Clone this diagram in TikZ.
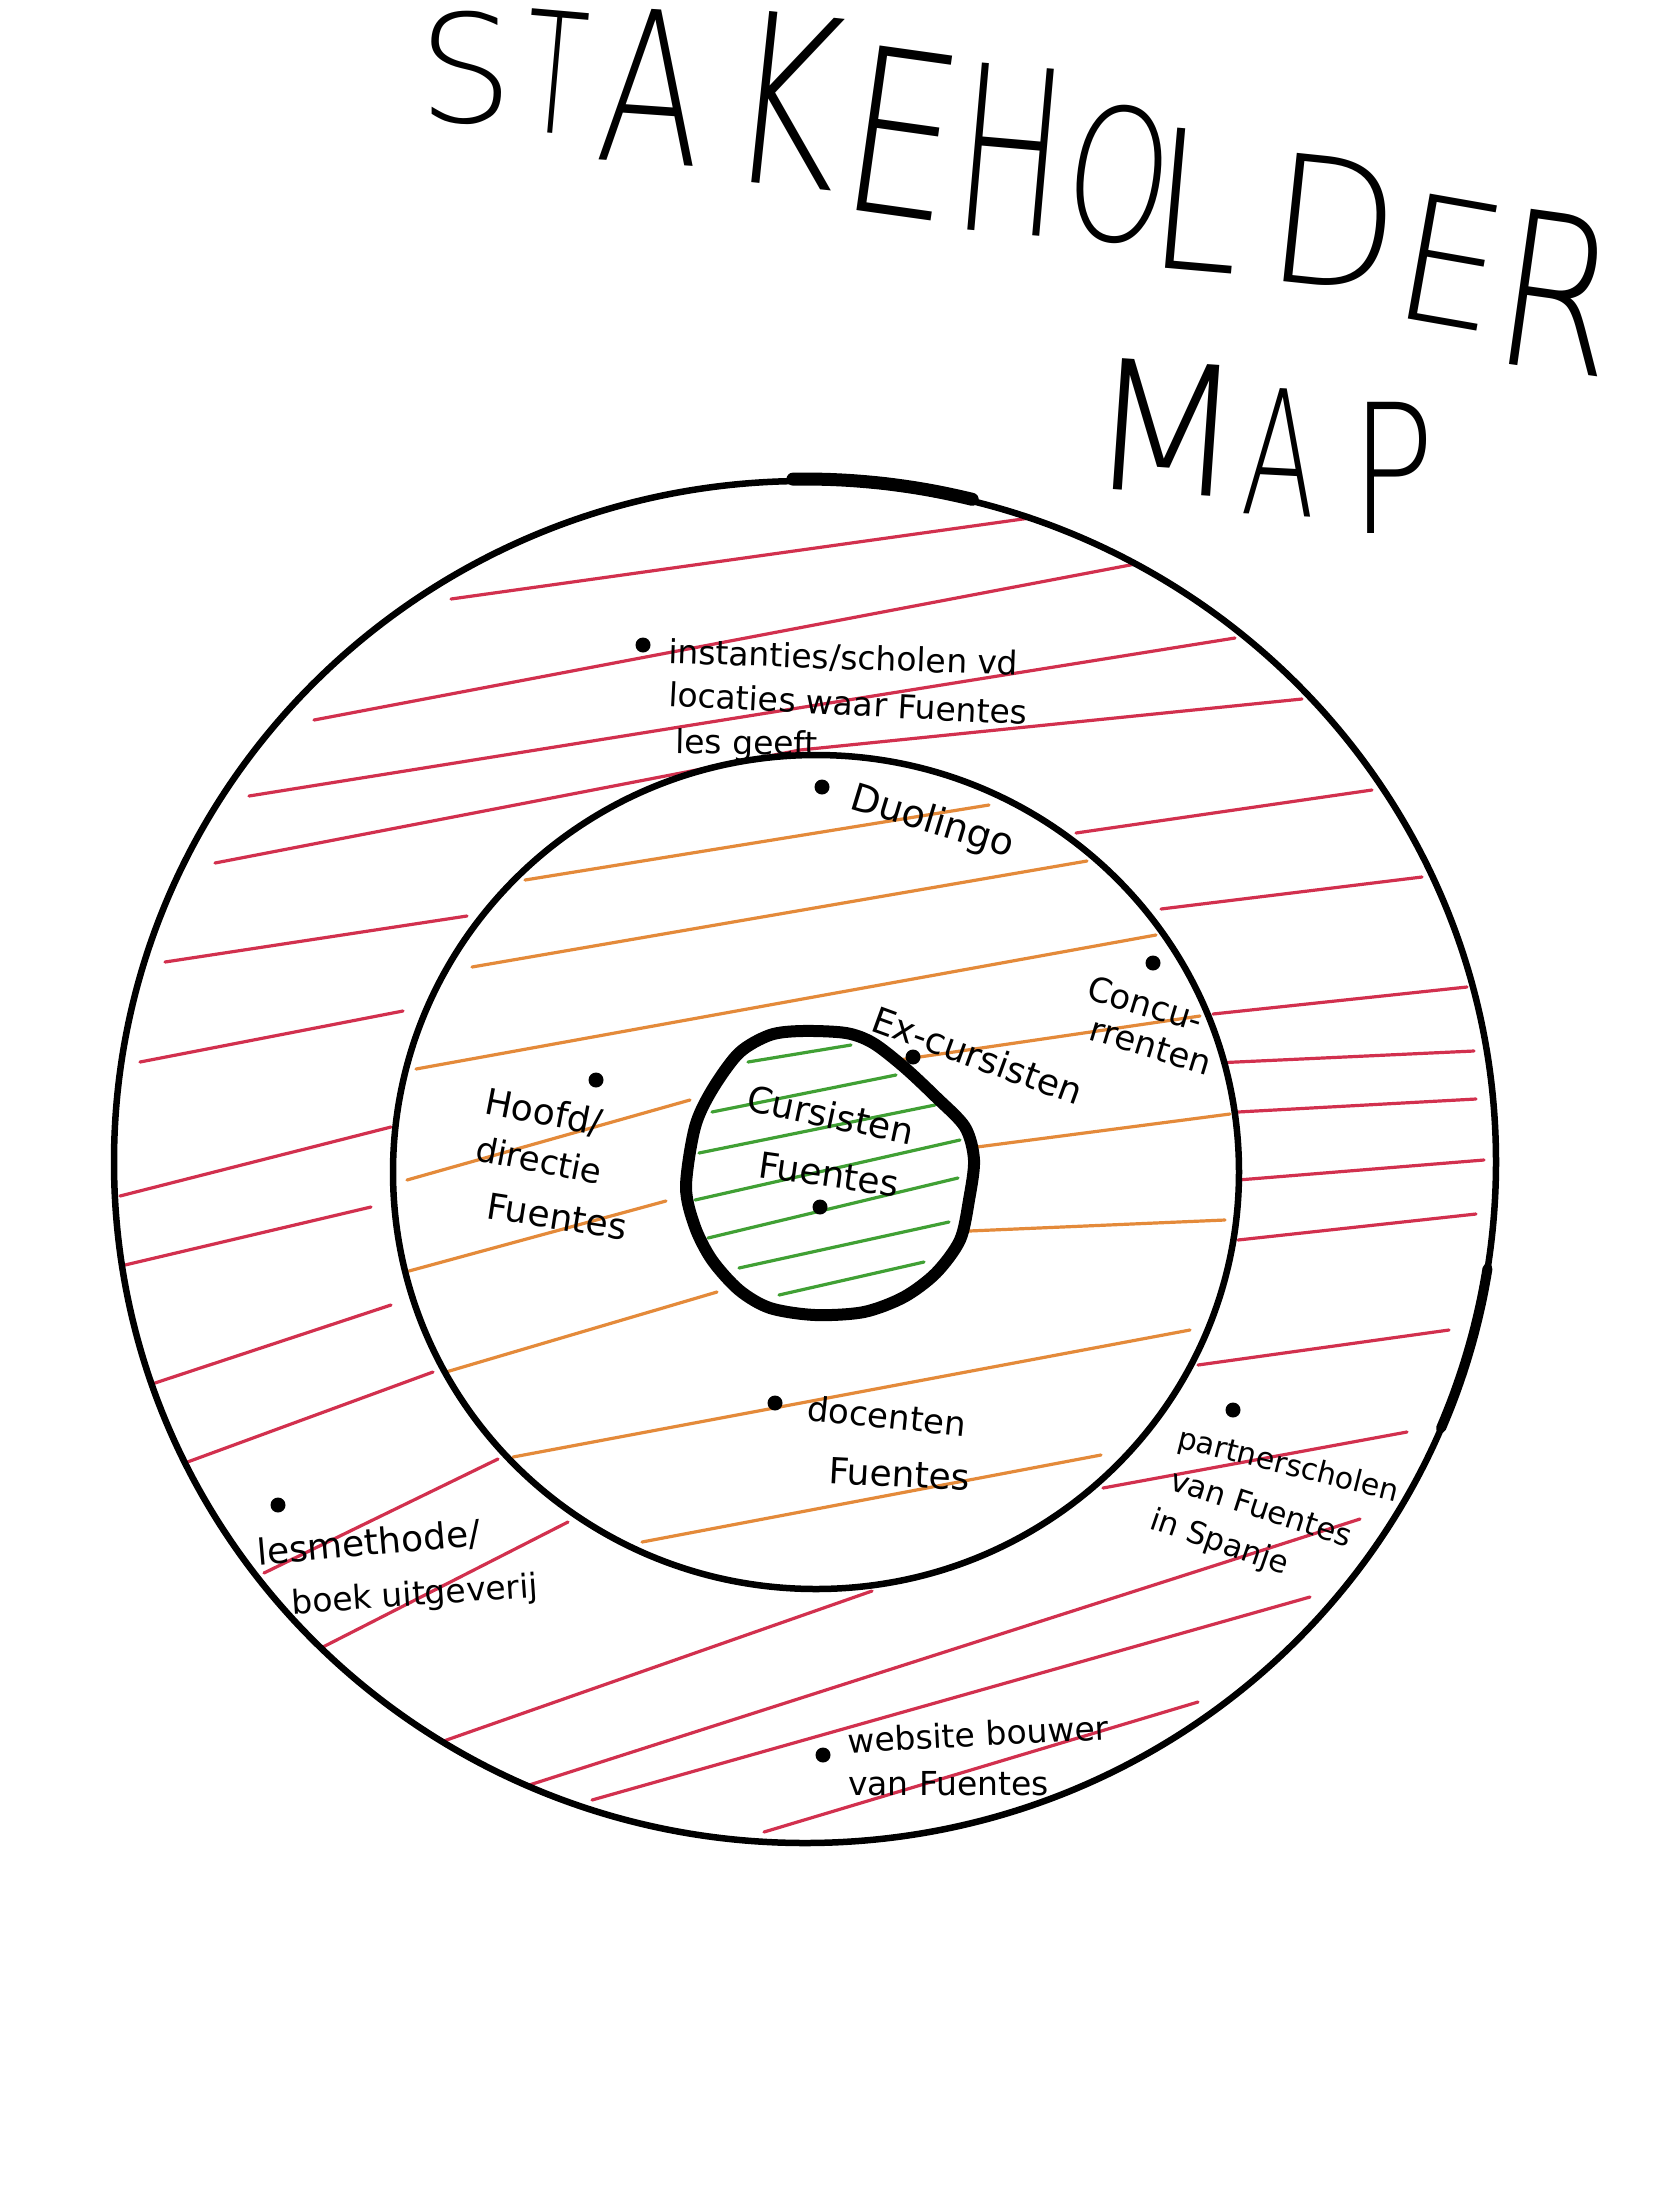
\documentclass[tikz,border=0pt]{standalone}
\usepackage{fontspec}
\setmainfont{DejaVu Sans}
\newfontfamily\handfont{DejaVu Sans}
\newfontfamily\titlefont{DejaVuSans-ExtraLight.ttf}

\definecolor{ringred}{RGB}{210,48,78}
\definecolor{ringorange}{RGB}{228,138,58}
\definecolor{ringgreen}{RGB}{64,160,52}

\tikzset{
  hatchred/.style={draw=ringred, line width=3.2pt, line cap=round},
  hatchorange/.style={draw=ringorange, line width=3.2pt, line cap=round},
  hatchgreen/.style={draw=ringgreen, line width=3.2pt, line cap=round},
  ringline/.style={draw=black, line width=#1, line cap=round, line join=round},
  dotmark/.style={circle, fill=black, inner sep=0pt, minimum size=15pt},
  lbl/.style={font=\handfont\fontsize{#1}{#1}\selectfont, anchor=base west, inner sep=0pt, text=black},
  titleletter/.style={font=\titlefont\fontsize{#1}{#1}\selectfont, inner sep=0pt, transform shape, text=black},
}

% one hand-lettered capital of the heading: name, x, y, size, rotation, x-scale, letter
\newcommand\titlechar[7]{%
  \begin{scope}[shift={(#2,#3)}]
    \node[titleletter=#4, rotate=#5, xscale=#6] (#1) at (0,0) {#7};
  \end{scope}}

\begin{document}
\begin{tikzpicture}[x=1pt, y=-1pt]
\useasboundingbox (0,0) rectangle (1653,2212);
\fill[white] (0,0) rectangle (1653,2212);

% ---------- red hatching of the outer ring ----------
\begin{scope}[even odd rule]
  \clip (805,1162) ellipse [x radius=691, y radius=681]
        (816,1172) ellipse [x radius=423, y radius=417];
  \foreach \a/\b/\c/\d in {451/599/1030/518, 314/720/1146/562, 249/796/1235/638,
      215/863/800/750, 800/750/1302/699,
      165/962/467/916, 140/1062/403/1011, 120/1196/391/1127, 125/1265/371/1207,
      155/1383/391/1305, 182/1464/433/1372, 264/1573/498/1459, 319/1649/568/1522,
      438/1743/872/1591, 523/1787/1360/1519, 592/1800/1310/1597, 764/1832/1198/1702,
      1076/833/1372/790, 1161/909/1422/877, 1213/1014/1467/987, 1215/1063/1474/1051,
      1238/1112/1476/1099, 1238/1180/1484/1160, 1238/1240/1476/1214,
      1198/1365/1449/1330, 1103/1488/1407/1432}
    \draw[hatchred] (\a,\b) -- (\c,\d);
\end{scope}

% ---------- orange hatching of the middle ring ----------
\begin{scope}[even odd rule]
  \clip (816,1172) ellipse [x radius=423, y radius=417]
    plot[smooth cycle, tension=0.5] coordinates {(686,1187) (695,1127) (712,1090) (739,1053)
      (770,1035) (802,1031) (846,1033) (873,1043) (904,1067) (936,1097) (965,1127)
      (974,1160) (969,1200) (960,1240) (936,1273) (904,1297) (864,1312) (815,1315)
      (770,1308) (739,1290) (712,1260) (695,1227)};
  \foreach \a/\b/\c/\d in {525/880/989/805, 472/967/1087/861, 416/1069/1156/935,
      407/1180/690/1100, 409/1271/666/1201, 446/1372/717/1292,
      513/1457/1190/1330, 642/1542/1101/1455,
      899/1060/1200/1016, 977/1147/1230/1114, 969/1231/1225/1220}
    \draw[hatchorange] (\a,\b) -- (\c,\d);
\end{scope}

% ---------- green hatching of the centre ----------
\begin{scope}
  \clip plot[smooth cycle, tension=0.5] coordinates {(686,1187) (695,1127) (712,1090) (739,1053)
      (770,1035) (802,1031) (846,1033) (873,1043) (904,1067) (936,1097) (965,1127)
      (974,1160) (969,1200) (960,1240) (936,1273) (904,1297) (864,1312) (815,1315)
      (770,1308) (739,1290) (712,1260) (695,1227)};
  \foreach \a/\b/\c/\d in {748/1062/851/1045, 712/1112/896/1075, 699/1153/935/1105,
      695/1200/960/1140, 708/1238/958/1178, 739/1268/949/1222, 779/1295/924/1262}
    \draw[hatchgreen] (\a,\b) -- (\c,\d);
\end{scope}

% ---------- the three rings ----------
\draw[ringline=6.5pt] (805,1162) ellipse [x radius=691, y radius=681];
\draw[ringline=6.5pt] (816,1172) ellipse [x radius=423, y radius=417];
\draw[ringline=12pt] plot[smooth cycle, tension=0.5] coordinates {(686,1187) (695,1127) (712,1090)
      (739,1053) (770,1035) (802,1031) (846,1033) (873,1043) (904,1067) (936,1097)
      (965,1127) (974,1160) (969,1200) (960,1240) (936,1273) (904,1297) (864,1312)
      (815,1315) (770,1308) (739,1290) (712,1260) (695,1227)};
% heavier pen strokes on the outer ring
\draw[line width=13pt, line cap=round] plot[domain=76:91, samples=20, smooth]
  ({805+691*cos(\x)},{1162-683*sin(\x)});
\draw[line width=10pt, line cap=round] plot[domain=-23:-9, samples=20, smooth]
  ({805+691*cos(\x)},{1162-681*sin(\x)});

% ---------- stakeholders ----------
\node[dotmark] (d1) at (643,645) {};
\node[lbl=33, rotate=-2] (t1a) at (668,663) {instanties/scholen vd};
\node[lbl=33, rotate=-3] (t1b) at (668,706) {locaties waar Fuentes};
\node[lbl=33, rotate=-1] (t1c) at (675,753) {les geeft};

\node[dotmark] (d2) at (822,787) {};
\node[lbl=38, rotate=-17] (t2) at (848,808) {Duolingo};

\node[dotmark] (d3) at (1153,963) {};
\node[lbl=34, rotate=-17] (t3a) at (1085,998) {Concu-};
\node[lbl=34, rotate=-17] (t3b) at (1087,1039) {rrenten};

\node[dotmark] (d4) at (913,1057) {};
\node[lbl=36, rotate=-20] (t4) at (869,1030) {Ex-cursisten};

\node[dotmark] (d5) at (820,1207) {};
\node[lbl=36, rotate=-12] (t5a) at (745,1110) {Cursisten};
\node[lbl=36, rotate=-8] (t5b) at (757,1177) {Fuentes};

\node[dotmark] (d6) at (596,1080) {};
\node[lbl=36, rotate=-11] (t6a) at (483,1113) {Hoofd/};
\node[lbl=34, rotate=-11] (t6b) at (474,1160) {directie};
\node[lbl=36, rotate=-9] (t6c) at (485,1218) {Fuentes};

\node[dotmark] (d7) at (775,1403) {};
\node[lbl=34, rotate=-6] (t7a) at (806,1420) {docenten};
\node[lbl=36, rotate=-3] (t7b) at (828,1483) {Fuentes};

\node[dotmark] (d8) at (278,1505) {};
\node[lbl=36, rotate=5] (t8a) at (258,1565) {lesmethode/};
\node[lbl=33, rotate=4] (t8b) at (292,1614) {boek uitgeverij};

\node[dotmark] (d9) at (1233,1410) {};
\node[lbl=30, rotate=-14] (t9a) at (1176,1447) {partnerscholen};
\node[lbl=31, rotate=-18] (t9b) at (1168,1489) {van Fuentes};
\node[lbl=31, rotate=-19] (t9c) at (1148,1528) {in Spanje};

\node[dotmark] (d10) at (823,1755) {};
\node[lbl=33, rotate=3] (t10a) at (848,1753) {website bouwer};
\node[lbl=33, rotate=0] (t10b) at (848,1795) {van Fuentes};

% ---------- heading ----------
\titlechar{h1}{466}{68}{150}{0}{1.0}{S}
\titlechar{h2}{556}{72}{168}{-5}{0.6}{T}
\titlechar{h3}{652}{86}{211}{-4}{0.72}{A}
\titlechar{h4}{787}{100}{236}{-6}{0.72}{K}
\titlechar{h5}{903}{133}{228}{-8}{0.78}{E}
\titlechar{h6}{1011}{150}{230}{-5}{0.62}{H}
\titlechar{h7}{1119}{174}{184}{-8}{0.72}{O}
\titlechar{h8}{1197}{200}{193}{-5}{0.85}{L}
\titlechar{h9}{1335}{222}{177}{-6}{0.95}{D}
\titlechar{h10}{1451}{262}{174}{-10}{0.95}{E}
\titlechar{h11}{1559}{292}{215}{-8}{0.8}{R}
\titlechar{m1}{1167}{427}{180}{-4}{1.0}{M}
\titlechar{m2}{1281}{452}{174}{-3}{0.62}{A}
\titlechar{m3}{1393}{468}{180}{0}{0.78}{P}
\end{tikzpicture}
\end{document}
